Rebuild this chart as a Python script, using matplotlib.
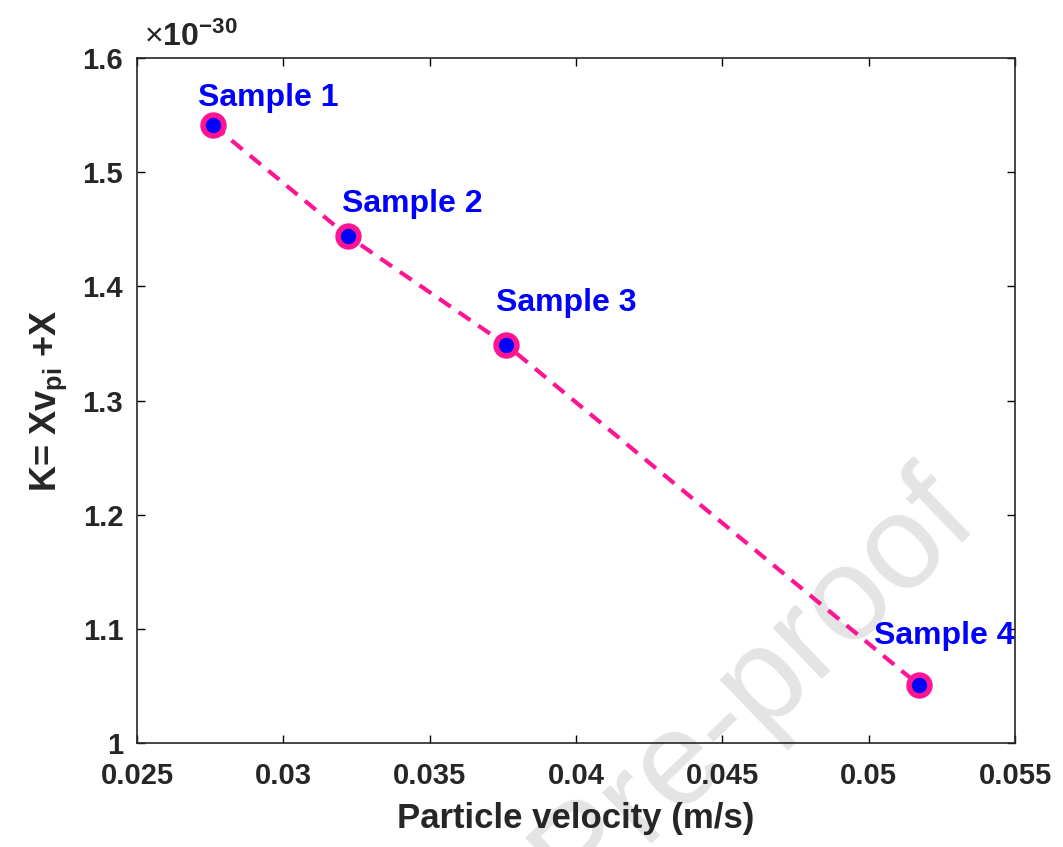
import matplotlib
matplotlib.use("Agg")
import matplotlib.pyplot as plt

# data (K in units of 1e-30)
velocity = [0.0276, 0.0322, 0.0376, 0.0517]
k_value = [1.541, 1.444, 1.349, 1.051]
sample_names = ["Sample 1", "Sample 2", "Sample 3", "Sample 4"]
x_ticks = [0.025, 0.03, 0.035, 0.04, 0.045, 0.05, 0.055]
y_ticks = [1, 1.1, 1.2, 1.3, 1.4, 1.5, 1.6]

plt.rcParams['font.family'] = ['Liberation Sans', 'DejaVu Sans']
plt.rcParams['mathtext.fontset'] = 'custom'
plt.rcParams['mathtext.rm'] = 'Liberation Sans'
plt.rcParams['mathtext.bf'] = 'Liberation Sans:bold'
plt.rcParams['mathtext.it'] = 'Liberation Sans:italic'

fig = plt.figure(figsize=(10.63, 8.47), dpi=100)

# watermark behind everything
fig.text(0.71, 0.19, "Pre-proof", fontsize=96, color="#e4e4e4",
         rotation=44, ha="center", va="center", zorder=-1)

ax = fig.add_axes([0.129, 0.1228, 0.826, 0.8087])
ax.set_facecolor("none")

pink = "#ff1493"
ax.plot(velocity, k_value, linestyle=(0, (3.4, 2.3)), color=pink, linewidth=3.0,
        marker="o", markersize=15, markerfacecolor="#0000ff",
        markeredgecolor=pink, markeredgewidth=4.0, zorder=3)

# label offsets in points (left edge, vertical centre)
offsets = [(-11, 20), (-4, 23), (-7, 30), (-32, 35)]
for x, y, name, off in zip(velocity, k_value, sample_names, offsets):
    ax.annotate(name, (x, y), xytext=off, textcoords="offset points",
                ha="left", va="center", color="#0000ff", fontsize=23,
                fontweight="bold", zorder=4, annotation_clip=False)

ax.set_xlim(0.025, 0.055)
ax.set_ylim(1, 1.6)
ax.set_xticks(x_ticks)
ax.set_xticklabels([f"{t:g}" for t in x_ticks])
ax.set_yticks(y_ticks)
ax.set_yticklabels([f"{t:g}" for t in y_ticks])

ax.tick_params(direction="in", length=6, width=1, top=True, right=True,
               labelsize=21, labelcolor="#262626")
ax.tick_params(axis="x", pad=14)
ax.tick_params(axis="y", pad=10)
for lab in ax.get_xticklabels() + ax.get_yticklabels():
    lab.set_fontweight("bold")
for sp in ax.spines.values():
    sp.set_linewidth(1.2)
    sp.set_color("#262626")

ax.set_xlabel("Particle velocity (m/s)", fontsize=25, fontweight="bold",
              color="#262626", labelpad=8)
ax.set_ylabel(r"K= Xv$_{\mathbf{pi}}$ +X", fontsize=26, fontweight="bold",
              color="#262626", labelpad=10)

ax.text(0.008, 1.008, r"$\times\mathbf{10}^{\mathbf{-30}}$", transform=ax.transAxes,
        fontsize=23, color="#262626", ha="left", va="bottom")

fig.savefig("out.png", dpi=100)
